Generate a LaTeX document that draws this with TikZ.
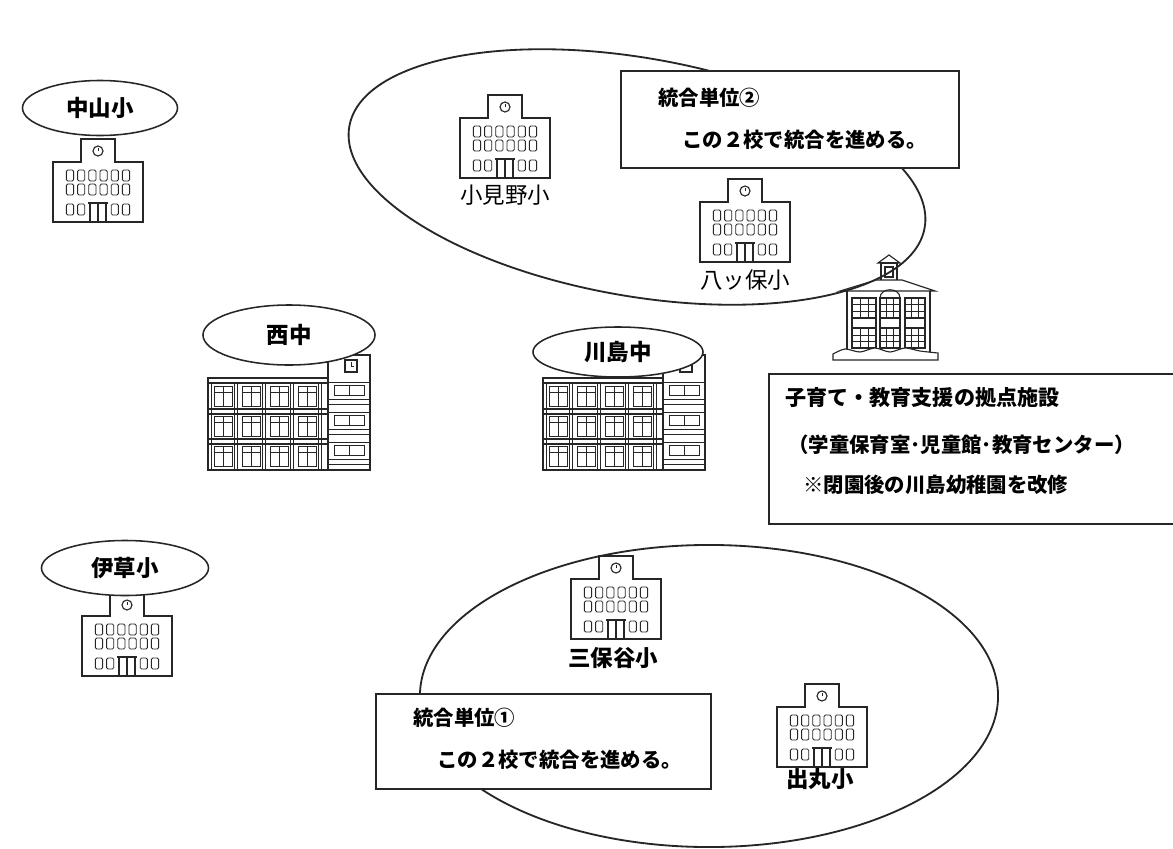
\documentclass[tikz,border=0pt]{standalone}
\usepackage{fontspec}
\setmainfont{Noto Sans CJK JP}
\usetikzlibrary{positioning,shapes.geometric,calc}

\tikzset{
  % small school: origin at the middle of the ground line
  school/.pic={
    \draw[icon] (-45,0) -- (-45,-60) -- (-17,-60) -- (-17,-83) -- (17,-83)
      -- (17,-60) -- (45,-60) -- (45,0) -- cycle;
    \draw[icon] (0,-71) circle [radius=5];
    \draw[icon, line width=0.5pt] (0,-71) -- (0,-74);
    \foreach \c in {-28,-16.8,-5.6,5.6,16.8,28}{
      \draw[window] (\c-3.6,-52) rectangle (\c+3.6,-41);
      \draw[window] (\c-3.6,-38) rectangle (\c+3.6,-27);
    }
    \foreach \c in {-28,-16.8,16.8,28}
      \draw[window] (\c-3.6,-18) rectangle (\c+3.6,-7);
    \draw[icon] (-8,0) -- (-8,-19) -- (8,-19) -- (8,0);
    \draw[icon] (-10,-19) -- (10,-19);
    \draw[icon] (0,0) -- (0,-18);
  },
  % junior high: origin at the top left corner of the main block
  chugaku/.pic={
    \draw[icon] (0,0) rectangle (120,92);
    \foreach \h in {5,31,36,61,66}
      \draw[icon] (0,\h) -- (120,\h);
    \draw[icon, line width=0.5pt] (3,5) -- (3,92);
    \foreach \p in {28,56,84,112}{
      \draw[icon, line width=0.5pt] (\p-1.5,5) -- (\p-1.5,92);
      \draw[icon, line width=0.5pt] (\p+1.5,5) -- (\p+1.5,92);
    }
    \foreach \f in {8,38,68}{
      \foreach \b in {0,28,56,84}{
        \draw[icon, line width=0.6pt] (\b+6,\f) rectangle (\b+24,\f+20);
        \draw[icon, line width=0.5pt] (\b+15,\f) -- (\b+15,\f+20);
        \draw[icon, line width=0.5pt] (\b+6,\f+6) -- (\b+24,\f+6);
      }
    }
    % stair tower with the clock
    \draw[icon] (120,-23) rectangle (162,92);
    \draw[icon] (137,-18) rectangle (149,-6);
    \draw[icon, line width=0.5pt] (143,-12) -- (143,-16) (143,-12) -- (146,-12);
    \foreach \f in {0,30,60}{
      \draw[icon, line width=0.5pt] (120,\f+4) -- (162,\f+4);
      \draw[icon, line width=0.6pt] (126,\f+7) rectangle (156,\f+17);
      \draw[icon, line width=0.5pt] (141,\f+7) -- (141,\f+17);
      \draw[icon, line width=0.5pt] (120,\f+21) -- (162,\f+21);
      \draw[icon, line width=0.5pt] (120,\f+26) -- (162,\f+26);
    }
  }
}

\begin{document}
\begin{tikzpicture}[
  x=0.025cm, y=-0.025cm,
  icon/.style={draw=black!85, line width=0.8pt},
  window/.style={icon, line width=0.6pt, rounded corners=1pt},
  group/.style={draw=black!85, ellipse, line width=1.3pt, inner sep=0pt},
  oval/.style={draw=black!85, ellipse, line width=1.1pt, fill=white, inner sep=0pt,
    font=\bfseries\fontsize{16}{18}\selectfont},
  note/.style={draw=black!85, line width=1.3pt, fill=white, anchor=north west, inner sep=0pt},
  notetext/.style={anchor=west, inner sep=0pt, font=\bfseries\fontsize{14.5}{17}\selectfont},
  schoolname/.style={inner sep=0pt, font=\fontsize{16}{18}\selectfont},
  boldname/.style={schoolname, font=\bfseries\fontsize{16}{18}\selectfont}
]
\clip (0,0) rectangle (1173,849);
\fill[white] (0,0) rectangle (1173,849);

% the two groups of schools
\node[group, minimum width=14.6cm, minimum height=5.95cm, rotate=-10] (unit2) at (637,177) {};
\node[group, minimum width=14.45cm, minimum height=7.55cm] (unit1) at (709,696) {};

% elementary schools
\pic at (98,222) {school};
\node[oval, minimum width=3.875cm, minimum height=1.375cm] (nakayama) at (100,108) {中山小};

\pic at (127,676) {school};
\node[oval, minimum width=4.175cm, minimum height=1.375cm] (igusa) at (125,568) {伊草小};

\pic at (505,178) {school};
\node[schoolname] (komino) at (505,195) {小見野小};

\pic at (745,262) {school};
\node[schoolname] (yatsuho) at (745,280) {八ッ保小};

\pic at (616,639) {school};
\node[boldname] (mihoya) at (613,658) {三保谷小};

\pic at (822,767) {school};
\node[boldname] (demaru) at (820,779) {出丸小};

% junior high schools
\pic at (208,378) {chugaku};
\node[oval, minimum width=4.3cm, minimum height=1.5cm] (nishi) at (289,335) {西中};

\pic at (543,378) {chugaku};
\node[oval, minimum width=4.25cm, minimum height=1.25cm] (kawajima) at (618,352) {川島中};

% kindergarten building
\draw[icon] (840,291) -- (876,280) -- (902,280) -- (935,291) -- cycle;
\draw[icon] (881,280) -- (881,263) -- (897,263) -- (897,280);
\draw[icon] (878,263) -- (889,255) -- (900,263) -- cycle;
\draw[icon] (885,267) rectangle (893,277);
\draw[icon] (847,291) -- (847,352) (930,291) -- (930,352);
\foreach \a/\b in {852/876, 880/900, 905/925}{
  \draw[icon] (\a,298) rectangle (\b,348);
  \draw[icon] (\a,318) rectangle (\b,328);
  \foreach \yy in {304,311,335,341}
    \draw[icon, line width=0.5pt] (\a,\yy) -- (\b,\yy);
  \draw[icon, line width=0.5pt] ({\a+(\b-\a)/3},298) -- ({\a+(\b-\a)/3},318)
    ({\a+2*(\b-\a)/3},298) -- ({\a+2*(\b-\a)/3},318)
    ({\a+(\b-\a)/3},328) -- ({\a+(\b-\a)/3},348)
    ({\a+2*(\b-\a)/3},328) -- ({\a+2*(\b-\a)/3},348);
}
\draw[icon] (880,298) .. controls (880,287) and (900,287) .. (900,298);
\draw[icon, fill=white] (833,360) -- plot[smooth] coordinates {(833,354) (845,349)
  (860,352) (875,348) (890,352) (905,348) (920,351) (938,353)} -- (938,360) -- cycle;

% notes
\node[note, minimum width=8.45cm, minimum height=2.425cm] (unit2box) at (620,70) {};
\node[notetext] (unit2head) at (658,98) {統合単位②};
\node[notetext] (unit2text) at (682,140) {この２校で統合を進める。};

\node[note, minimum width=8.375cm, minimum height=2.375cm] (unit1box) at (375,693) {};
\node[notetext] (unit1head) at (413,718) {統合単位①};
\node[notetext] (unit1text) at (437,760) {この２校で統合を進める。};

\node[note, minimum width=10.5cm, minimum height=3.75cm] (basebox) at (768,373) {};
\node[notetext, font=\bfseries\fontsize{15}{17}\selectfont] (basehead) at (785,398) {子育て・教育支援の拠点施設};
\node[notetext] (baseuse) at (788,445) {（学童保育室･児童館･教育センター）};
\node[notetext] (basenote) at (803,485) {※閉園後の川島幼稚園を改修};

\end{tikzpicture}
\end{document}
